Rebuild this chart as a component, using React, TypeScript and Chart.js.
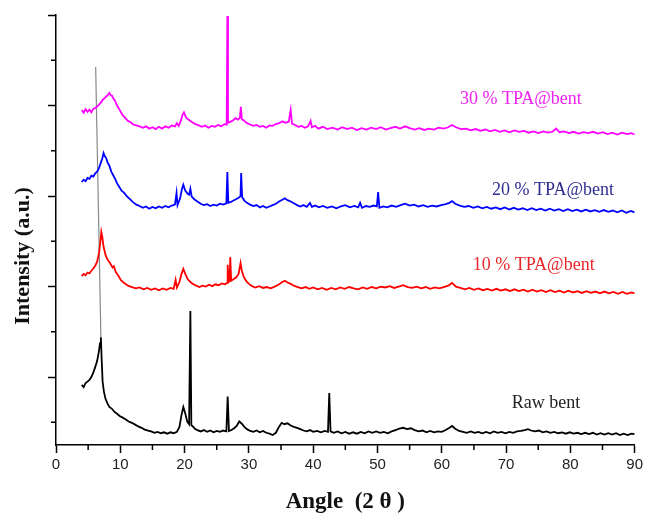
import React, { useEffect, useRef } from "react";
import { Chart, registerables } from "chart.js";

Chart.register(...registerables);

// ---- data: [angle (2θ), intensity (a.u., stacked offsets)] ----
const tpa30: [number, number][] = [
  [4.0,740],[4.3,734],[4.6,742],[4.9,736],[5.2,741],[5.5,735],[5.8,743],[6.1,744],[6.4,748],[6.7,752],[7.0,757],[7.3,763],[7.6,767],[7.9,771],[8.1,774],[8.3,778],[8.5,773],[8.7,772],[8.9,766],[9.2,760],[9.5,750],[9.8,743],[10.1,735],[10.4,728],[10.8,722],[11.2,716],[11.6,713],[12.0,708],[12.5,706],[13.0,704],[13.5,701],[14.0,704],[14.5,699],[15.0,702],[15.5,698],[16.0,703],[16.5,699],[17.0,704],[17.5,701],[18.0,706],[18.5,704],[18.8,711],[19.1,705],[19.4,716],[19.7,730],[19.9,735],[20.2,724],[20.5,720],[20.9,716],[21.3,712],[21.7,709],[22.2,706],[22.7,703],[23.2,706],[23.7,701],[24.2,705],[24.7,703],[25.2,707],[25.7,704],[26.2,709],[26.55,708],[26.65,948],[26.75,712],[27.1,714],[27.5,717],[27.9,722],[28.3,719],[28.6,723],[28.75,747],[28.9,720],[29.3,716],[29.7,711],[30.2,708],[30.7,705],[31.2,707],[31.7,703],[32.2,705],[32.7,701],[33.2,706],[33.7,705],[34.2,709],[34.7,711],[35.2,715],[35.7,712],[36.2,714],[36.5,740],[36.7,710],[37.2,707],[37.7,703],[38.2,705],[38.7,701],[39.2,704],[39.6,716],[39.8,702],[40.3,705],[40.8,699],[41.5,703],[42.2,698],[43.0,701],[43.8,697],[44.5,702],[45.3,698],[46.0,701],[46.8,696],[47.5,700],[48.3,697],[49.0,701],[49.8,698],[50.5,702],[51.3,697],[52.0,700],[52.8,703],[53.5,699],[54.3,704],[55.0,700],[55.8,697],[56.5,700],[57.3,696],[58.0,699],[58.8,697],[59.5,701],[60.3,699],[61.0,702],[61.6,707],[62.2,702],[63.0,698],[63.8,699],[64.5,695],[65.3,698],[66.0,694],[66.8,697],[67.5,693],[68.3,696],[69.0,692],[69.8,695],[70.5,691],[71.3,695],[72.0,692],[72.8,694],[73.5,690],[74.3,693],[75.0,689],[75.8,693],[76.5,690],[77.2,692],[77.8,699],[78.3,691],[79.0,693],[79.8,689],[80.5,692],[81.3,688],[82.0,691],[82.8,689],[83.5,692],[84.3,688],[85.0,691],[85.8,687],[86.5,690],[87.3,686],[88.0,690],[88.8,687],[89.5,689],[90.0,686]
];

const tpa20: [number, number][] = [
  [4.0,581],[4.3,586],[4.6,583],[4.9,590],[5.2,588],[5.5,595],[5.8,593],[6.1,600],[6.4,604],[6.7,612],[7.0,625],[7.2,633],[7.4,645],[7.6,638],[7.8,634],[8.0,625],[8.3,617],[8.6,604],[8.9,596],[9.2,588],[9.5,578],[9.8,571],[10.2,562],[10.6,557],[11.0,550],[11.5,543],[12.0,536],[12.5,531],[13.0,528],[13.5,524],[14.0,527],[14.5,522],[15.0,526],[15.5,523],[16.0,527],[16.5,524],[17.0,528],[17.5,525],[18.0,529],[18.5,531],[18.75,557],[18.9,530],[19.3,545],[19.6,566],[19.8,575],[20.1,562],[20.4,556],[20.7,553],[20.9,566],[21.1,549],[21.5,543],[22.0,538],[22.5,533],[23.0,530],[23.5,532],[24.0,528],[24.5,531],[25.0,529],[25.5,533],[26.0,531],[26.5,534],[26.65,603],[26.8,535],[27.2,537],[27.6,540],[28.0,543],[28.4,546],[28.7,550],[28.8,601],[28.95,548],[29.3,540],[29.7,535],[30.2,531],[30.7,528],[31.2,530],[31.7,525],[32.2,528],[32.7,524],[33.2,527],[33.7,530],[34.2,533],[34.7,538],[35.2,542],[35.6,545],[36.0,541],[36.5,538],[37.0,534],[37.5,530],[38.0,527],[38.5,530],[39.0,526],[39.5,535],[39.8,526],[40.3,529],[40.9,525],[41.5,528],[42.2,524],[42.9,527],[43.6,523],[44.3,527],[45.0,530],[45.7,525],[46.4,528],[47.0,525],[47.3,535],[47.6,524],[48.2,528],[48.8,526],[49.4,529],[49.9,527],[50.1,559],[50.3,524],[50.9,527],[51.5,525],[52.2,529],[52.9,526],[53.6,530],[54.3,533],[55.0,529],[55.7,531],[56.4,527],[57.1,530],[57.8,526],[58.5,529],[59.2,527],[59.9,530],[60.6,532],[61.2,535],[61.6,539],[62.1,533],[62.8,529],[63.5,526],[64.2,528],[64.9,524],[65.6,527],[66.3,523],[67.0,526],[67.7,522],[68.4,525],[69.1,521],[69.8,525],[70.5,520],[71.2,524],[71.9,520],[72.6,523],[73.3,519],[74.0,523],[74.7,519],[75.4,522],[76.1,518],[76.8,522],[77.5,518],[78.2,521],[78.9,517],[79.6,521],[80.3,517],[81.0,520],[81.7,516],[82.4,520],[83.1,516],[83.8,519],[84.5,515],[85.2,519],[85.9,515],[86.6,518],[87.3,514],[88.0,518],[88.7,513],[89.4,517],[90.0,514]
];

const tpa10: [number, number][] = [
  [4.0,373],[4.3,378],[4.6,375],[4.9,381],[5.2,379],[5.5,385],[5.8,390],[6.1,396],[6.4,405],[6.7,425],[6.9,450],[7.05,471],[7.2,460],[7.4,438],[7.7,420],[8.0,410],[8.4,402],[8.8,392],[9.0,395],[9.3,382],[9.7,374],[10.1,364],[10.6,358],[11.2,352],[11.8,349],[12.4,346],[13.0,348],[13.6,344],[14.2,347],[14.8,343],[15.4,346],[16.0,342],[16.6,346],[17.2,343],[17.8,347],[18.3,345],[18.6,365],[18.8,348],[19.2,360],[19.5,377],[19.8,389],[20.1,378],[20.5,366],[20.9,360],[21.3,356],[21.8,352],[22.3,349],[22.8,352],[23.3,350],[23.8,354],[24.3,351],[24.8,355],[25.3,353],[25.8,357],[26.3,355],[26.6,358],[26.7,398],[26.85,360],[27.0,362],[27.1,415],[27.25,363],[27.6,366],[28.0,370],[28.4,378],[28.7,402],[28.9,385],[29.2,372],[29.6,362],[30.0,356],[30.5,351],[31.0,348],[31.6,351],[32.2,347],[32.8,349],[33.4,346],[34.0,350],[34.6,354],[35.2,360],[35.6,363],[36.0,359],[36.5,356],[37.0,352],[37.6,349],[38.2,346],[38.8,349],[39.4,345],[40.0,348],[40.7,344],[41.4,347],[42.1,343],[42.8,347],[43.5,344],[44.2,348],[44.9,345],[45.6,349],[46.3,346],[47.0,344],[47.7,348],[48.4,345],[49.1,349],[49.8,346],[50.5,350],[51.2,348],[51.9,351],[52.6,347],[53.3,350],[54.0,353],[54.7,349],[55.4,347],[56.1,350],[56.8,346],[57.5,349],[58.2,345],[58.9,348],[59.6,346],[60.3,349],[61.0,352],[61.6,358],[62.2,350],[62.9,347],[63.6,344],[64.3,347],[65.0,343],[65.7,346],[66.4,342],[67.1,345],[67.8,341],[68.5,345],[69.2,341],[69.9,344],[70.6,340],[71.3,344],[72.0,340],[72.7,343],[73.4,339],[74.1,343],[74.8,339],[75.5,342],[76.2,338],[76.9,342],[77.6,338],[78.3,341],[79.0,337],[79.7,341],[80.4,337],[81.1,340],[81.8,336],[82.5,340],[83.2,336],[83.9,339],[84.6,335],[85.3,339],[86.0,335],[86.7,338],[87.4,334],[88.1,338],[88.8,334],[89.5,337],[90.0,335]
];

const rawBent: [number, number][] = [
  [4.0,133],[4.3,128],[4.6,137],[4.9,140],[5.2,144],[5.5,150],[5.8,160],[6.1,172],[6.4,186],[6.65,205],[6.85,225],[6.98,238],[7.1,190],[7.25,140],[7.45,118],[7.7,102],[8.0,92],[8.3,84],[8.7,80],[9.1,73],[9.5,69],[9.9,64],[10.3,61],[10.8,57],[11.3,52],[11.8,49],[12.3,45],[12.8,41],[13.3,38],[13.8,34],[14.3,32],[14.8,30],[15.3,27],[15.8,29],[16.3,26],[16.8,28],[17.3,25],[17.8,28],[18.3,26],[18.8,29],[19.2,40],[19.5,65],[19.8,84],[20.1,70],[20.4,52],[20.7,46],[20.9,296],[21.05,44],[21.2,42],[21.6,36],[22.0,33],[22.5,30],[23.0,33],[23.5,29],[24.0,32],[24.5,28],[25.0,31],[25.5,29],[26.0,32],[26.5,30],[26.7,107],[26.9,31],[27.3,33],[27.7,37],[28.1,42],[28.5,52],[28.9,47],[29.3,40],[29.7,35],[30.2,31],[30.7,29],[31.2,32],[31.7,28],[32.2,31],[32.7,27],[33.2,25],[33.7,22],[34.2,27],[34.6,38],[35.1,49],[35.5,46],[36.0,48],[36.5,43],[37.0,40],[37.5,38],[38.0,35],[38.5,32],[39.0,30],[39.5,33],[40.0,29],[40.6,31],[41.2,28],[41.8,31],[42.3,29],[42.5,115],[42.7,30],[43.2,27],[43.8,30],[44.4,26],[45.0,29],[45.6,25],[46.2,28],[46.8,25],[47.4,29],[48.0,26],[48.6,30],[49.2,27],[49.8,30],[50.4,27],[51.0,29],[51.6,26],[52.2,30],[52.8,33],[53.4,36],[54.0,38],[54.6,35],[55.2,37],[55.8,33],[56.4,30],[57.0,32],[57.6,28],[58.2,31],[58.8,28],[59.4,30],[60.0,29],[60.6,33],[61.2,38],[61.6,42],[62.1,36],[62.7,31],[63.3,29],[63.9,27],[64.5,30],[65.1,27],[65.7,29],[66.3,26],[66.9,29],[67.5,26],[68.1,30],[68.7,27],[69.3,29],[69.9,26],[70.5,29],[71.1,27],[71.7,30],[72.3,31],[72.9,33],[73.4,35],[73.9,32],[74.5,30],[75.1,32],[75.7,28],[76.3,30],[76.9,27],[77.5,29],[78.1,26],[78.7,28],[79.3,25],[79.9,28],[80.5,25],[81.1,27],[81.7,24],[82.3,27],[82.9,24],[83.5,27],[84.1,23],[84.7,26],[85.3,23],[85.9,26],[86.5,23],[87.1,26],[87.7,22],[88.3,25],[88.9,22],[89.5,25],[90.0,24]
];

// the sharp (001) reflection of the raw sample, drawn as a thin grey stroke
const rawSpike: [number, number][] = [[6.17, 835], [6.98, 238]];

const xMajorTicks = [0, 10, 20, 30, 40, 50, 60, 70, 80, 90];
const xMinorTicks = [5, 15, 25, 35, 45, 55, 65, 75, 85];
const yMajorTicks = [150, 350, 550, 750, 950];
const yMinorTicks = [50, 250, 450, 650, 850];

const seriesNames = ["30 % TPA@bent", "20 % TPA@bent", "10 % TPA@bent", "Raw bent"];
const labelAngles = [72.3, 77.3, 74.3, 76.2];
const labelLevels = [764, 563, 398, 93];
const lineColors = ["#ff00ff", "#0000ff", "#ff0000", "#000000"];
const textColors = ["#ee22ee", "#2e2e8e", "#e8262a", "#222222"];

const toXY = (arr: [number, number][]) => arr.map(([x, y]) => ({ x, y }));

const overlayPlugin = {
  id: "overlay",
  afterDraw(chart: any) {
    const { ctx } = chart;
    const xs = chart.scales.x;
    const ys = chart.scales.y;
    ctx.save();
    ctx.strokeStyle = "#000";
    ctx.lineWidth = 1.5;
    ctx.beginPath();
    for (const v of xMinorTicks) {
      const p = xs.getPixelForValue(v);
      ctx.moveTo(p, ys.bottom);
      ctx.lineTo(p, ys.bottom + 5);
    }
    for (const v of yMinorTicks) {
      const p = ys.getPixelForValue(v);
      ctx.moveTo(xs.left - 5, p);
      ctx.lineTo(xs.left, p);
    }
    ctx.stroke();

    ctx.font = "18px 'Liberation Serif'";
    ctx.textAlign = "center";
    ctx.textBaseline = "middle";
    seriesNames.forEach((name, i) => {
      ctx.fillStyle = textColors[i];
      ctx.fillText(name, xs.getPixelForValue(labelAngles[i]), ys.getPixelForValue(labelLevels[i]));
    });

    ctx.translate(23, 256);
    ctx.rotate(-Math.PI / 2);
    ctx.font = "bold 22px 'Liberation Serif'";
    ctx.fillStyle = "#111";
    ctx.fillText("Intensity (a.u.)", 0, 0);
    ctx.restore();
  },
};

export default function App() {
  const ref = useRef<HTMLCanvasElement | null>(null);
  useEffect(() => {
    if (!ref.current) return;
    const datasets: any[] = [tpa30, tpa20, tpa10, rawBent].map((d, i) => ({
      label: seriesNames[i],
      data: toXY(d),
      borderColor: lineColors[i],
      borderWidth: 1.8,
      pointRadius: 0,
      tension: 0,
      fill: false,
    }));
    datasets.push({
      label: "raw spike",
      data: toXY(rawSpike),
      borderColor: "#8a8a8a",
      borderWidth: 1.2,
      pointRadius: 0,
      fill: false,
    });
    const chart = new Chart(ref.current, {
      type: "line",
      data: { datasets },
      options: {
        animation: false,
        responsive: false,
        events: [],
        layout: { padding: { top: 15, right: 10, left: 0, bottom: 0 } },
        plugins: { legend: { display: false }, tooltip: { enabled: false } },
        scales: {
          x: {
            type: "linear",
            min: 0,
            max: 90,
            afterBuildTicks: (s: any) => {
              s.ticks = xMajorTicks.map((v) => ({ value: v }));
            },
            afterFit: (s: any) => {
              s.height = 69;
            },
            grid: { drawOnChartArea: false, drawTicks: true, tickLength: 8, tickColor: "#000", tickWidth: 1.5 },
            border: { display: true, color: "#000", width: 1.5 },
            ticks: { color: "#222", font: { family: "'Liberation Sans'", size: 15 }, padding: 3, maxRotation: 0 },
            title: {
              display: true,
              text: "Angle  (2 θ )",
              color: "#111",
              font: { family: "'Liberation Serif'", size: 23, weight: "bold", lineHeight: 1 },
              padding: { top: 0, bottom: 0 },
            },
          },
          y: {
            type: "linear",
            min: 0,
            max: 950,
            afterBuildTicks: (s: any) => {
              s.ticks = yMajorTicks.map((v) => ({ value: v }));
            },
            afterFit: (s: any) => {
              s.width = 56;
            },
            grid: { drawOnChartArea: false, drawTicks: true, tickLength: 8, tickColor: "#000", tickWidth: 1.5 },
            border: { display: true, color: "#000", width: 1.5 },
            ticks: { display: false },
          },
        },
      },
      plugins: [overlayPlugin],
    });
    return () => chart.destroy();
  }, []);
  return (
    <div style={{ position: "absolute", left: 0, top: 0, width: 646, height: 514, background: "#fff" }}>
      <canvas ref={ref} width={646} height={514} style={{ width: 646, height: 514 }} />
    </div>
  );
}
